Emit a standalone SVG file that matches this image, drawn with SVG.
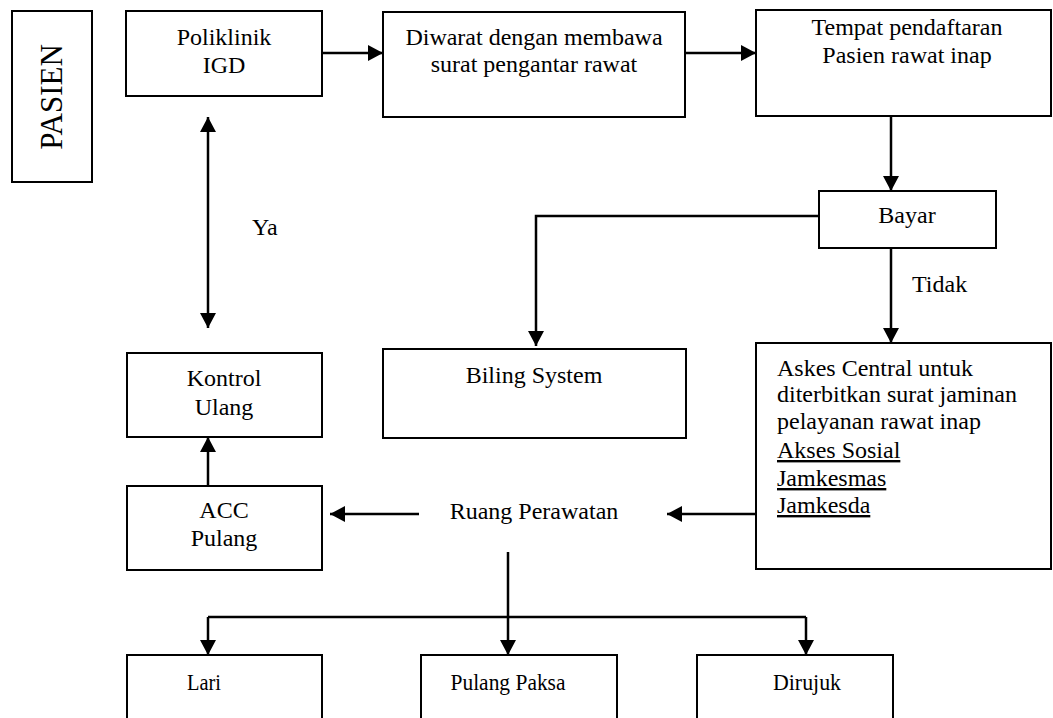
<svg xmlns="http://www.w3.org/2000/svg" width="1053" height="718" viewBox="0 0 1053 718">
<style>
  .box { fill: #fff; stroke: #000; stroke-width: 2; }
  text { font-family: "Liberation Serif", "DejaVu Serif", serif; font-size: 24px; fill: #000; }
  .c { text-anchor: middle; }
  .u { text-decoration: underline; }
  .ln { fill: none; stroke: #000; stroke-width: 2.5; }
  .arr { marker-end: url(#ah); }
</style>
<defs>
  <marker id="ah" markerUnits="userSpaceOnUse" markerWidth="16" markerHeight="16" refX="15" refY="8" orient="auto-start-reverse" viewBox="0 0 16 16">
    <path d="M0,0 L15,8 L0,16 z" fill="#000"/>
  </marker>
</defs>
<rect width="1053" height="718" fill="#fff"/>

<g id="pasien">
  <rect class="box" x="12" y="11" width="80" height="171"/>
  <text class="c" style="font-size:31px" transform="translate(62,97) rotate(-90)">PASIEN</text>
</g>
<g id="poliklinik">
  <rect class="box" x="126" y="11" width="196" height="85"/>
  <text class="c" x="224" y="45">Poliklinik</text>
  <text class="c" x="224" y="73">IGD</text>
</g>
<g id="diwarat">
  <rect class="box" x="383" y="12" width="302" height="105"/>
  <text class="c" x="534" y="45">Diwarat dengan membawa</text>
  <text class="c" x="534" y="72">surat pengantar rawat</text>
</g>
<g id="tempat">
  <rect class="box" x="756" y="10" width="295" height="106"/>
  <text class="c" x="907" y="35">Tempat pendaftaran</text>
  <text class="c" x="907" y="63">Pasien rawat inap</text>
</g>
<g id="bayar">
  <rect class="box" x="819" y="191" width="177" height="57"/>
  <text class="c" x="907" y="223">Bayar</text>
</g>
<g id="biling">
  <rect class="box" x="383" y="349" width="303" height="89"/>
  <text class="c" x="534" y="383">Biling System</text>
</g>
<g id="askes">
  <rect class="box" x="756" y="343" width="295" height="226"/>
  <text x="777" y="376">Askes Central untuk</text>
  <text x="777" y="402">diterbitkan surat jaminan</text>
  <text x="777" y="429">pelayanan rawat inap</text>
  <text class="u" x="777" y="458">Akses Sosial</text>
  <text class="u" x="777" y="486">Jamkesmas</text>
  <text class="u" x="777" y="513">Jamkesda</text>
</g>
<g id="ruang">
  <text class="c" x="534" y="519">Ruang Perawatan</text>
</g>
<g id="kontrol">
  <rect class="box" x="127" y="353" width="195" height="84"/>
  <text class="c" x="224" y="386">Kontrol</text>
  <text class="c" x="224" y="415">Ulang</text>
</g>
<g id="acc">
  <rect class="box" x="127" y="486" width="195" height="84"/>
  <text class="c" x="224" y="518">ACC</text>
  <text class="c" x="224" y="546">Pulang</text>
</g>
<g id="lari">
  <rect class="box" x="127" y="655" width="195" height="80"/>
  <text class="c" x="204" y="690" textLength="34" lengthAdjust="spacingAndGlyphs">Lari</text>
</g>
<g id="pulangpaksa">
  <rect class="box" x="421" y="655" width="196" height="80"/>
  <text class="c" x="508" y="690" textLength="115" lengthAdjust="spacingAndGlyphs">Pulang Paksa</text>
</g>
<g id="dirujuk">
  <rect class="box" x="697" y="655" width="196" height="80"/>
  <text class="c" x="807" y="690" textLength="68" lengthAdjust="spacingAndGlyphs">Dirujuk</text>
</g>

<g id="connectors">
  <path class="ln arr" d="M322,53 H383"/>
  <path class="ln arr" d="M685,53 H756"/>
  <path class="ln arr" d="M891,116 V191"/>
  <path class="ln arr" d="M819,216 H536 V346"/>
  <path class="ln arr" d="M891,248 V343"/>
  <path class="ln arr" d="M756,514 H667"/>
  <path class="ln arr" d="M419,514 H330"/>
  <path class="ln arr" d="M208,486 V437"/>
  <path class="ln arr" style="marker-start:url(#ah)" d="M208,117 V328"/>
  <path class="ln" d="M508,552 V617 M208,617 H806"/>
  <path class="ln arr" d="M208,617 V655"/>
  <path class="ln arr" d="M508,617 V655"/>
  <path class="ln arr" d="M806,617 V655"/>
  <text x="252" y="235">Ya</text>
  <text x="912" y="292">Tidak</text>
</g>
</svg>
